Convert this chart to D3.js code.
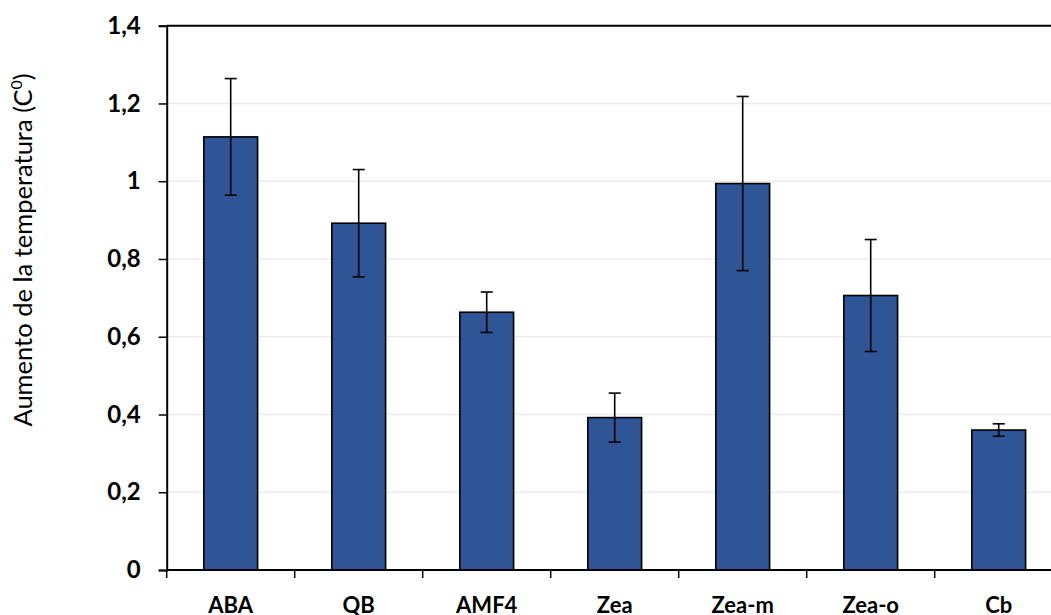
<!DOCTYPE html>
<html><head><meta charset="utf-8">
<script src="https://cdn.jsdelivr.net/npm/d3@7"></script>
<style>body{margin:0;background:#fff}svg{display:block}</style>
</head><body>
<svg id="c" width="1051" height="615"></svg>
<script>
const categories = ["ABA","QB","AMF4","Zea","Zea-m","Zea-o","Cb"];
const values = [1.114, 0.892, 0.663, 0.392, 0.994, 0.706, 0.360];
const errors = [0.150, 0.138, 0.052, 0.063, 0.224, 0.144, 0.016];
const yTicks = [0,0.2,0.4,0.6,0.8,1,1.2,1.4];
const yLabel = "Aumento de la temperatura (C";

const svg = d3.select("#c");
const mLeft = 166.7, mRight = mLeft + 7*128, mTop = 25.7, mBottom = 570;
const font = "Lato, 'Open Sans', sans-serif";

const x = d3.scaleBand().domain(categories).range([mLeft, mRight]).paddingInner(0.58).paddingOuter(0.29);
const y = d3.scaleLinear().domain([0,1.4]).range([mBottom, mTop]);

// gridlines
svg.append("g").selectAll("line").data(yTicks.filter(d=>d>0 && d<1.4)).join("line")
  .attr("x1", mLeft).attr("x2", mRight).attr("y1", d=>y(d)).attr("y2", d=>y(d))
  .attr("stroke", "#ebebeb").attr("stroke-width", 1.5);

// top border
svg.append("line").attr("x1", mLeft).attr("x2", mRight).attr("y1", y(1.4)).attr("y2", y(1.4))
  .attr("stroke","#000").attr("stroke-width",2);

// bars
svg.append("g").selectAll("rect").data(categories).join("rect")
  .attr("x", d=>x(d)).attr("width", x.bandwidth())
  .attr("y", (d,i)=>y(values[i])).attr("height", (d,i)=>y(0)-y(values[i]))
  .attr("fill","#2f5597").attr("stroke","#000").attr("stroke-width",1.6);

// error bars
const eg = svg.append("g").attr("stroke","#000").attr("stroke-width",1.6);
categories.forEach((c,i)=>{
  const cx = x(c) + x.bandwidth()/2;
  const hi = y(values[i]+errors[i]), lo = y(values[i]-errors[i]);
  eg.append("line").attr("x1",cx).attr("x2",cx).attr("y1",hi).attr("y2",lo);
  eg.append("line").attr("x1",cx-6).attr("x2",cx+6).attr("y1",hi).attr("y2",hi);
  eg.append("line").attr("x1",cx-6).attr("x2",cx+6).attr("y1",lo).attr("y2",lo);
});

// y axis
const ya = svg.append("g").attr("transform",`translate(${mLeft},0)`)
  .call(d3.axisLeft(y).tickValues(yTicks).tickSize(8).tickPadding(18)
    .tickFormat(d=>String(+d.toFixed(1)).replace(".",",")));
ya.select(".domain").attr("stroke","#000").attr("stroke-width",2);
ya.selectAll(".tick line").attr("stroke","#000").attr("stroke-width",1.5);
ya.selectAll("text").attr("font-family",font).attr("font-weight","bold").attr("font-size",24).attr("fill","#000");

// x axis
const xa = svg.append("g").attr("transform",`translate(0,${mBottom})`)
  .call(d3.axisBottom(x).tickSize(0).tickPadding(27.5));
xa.select(".domain").attr("stroke","#000").attr("stroke-width",2).attr("d",`M${mLeft},0H${mRight}`);
xa.selectAll("text").attr("font-family",font).attr("font-weight","bold").attr("font-size",22).attr("fill","#000");
// category separator ticks
svg.append("g").selectAll("line").data(d3.range(categories.length+1)).join("line")
  .attr("x1", i=>mLeft+i*x.step()).attr("x2", i=>mLeft+i*x.step())
  .attr("y1", mBottom).attr("y2", mBottom+8).attr("stroke","#000").attr("stroke-width",1.5);

// y label
const yl = svg.append("text").attr("transform","translate(32,250) rotate(-90)")
  .attr("text-anchor","middle").attr("font-family",font).attr("font-size",25.5).attr("fill","#000");
yl.append("tspan").text(yLabel);
yl.append("tspan").attr("font-size",16).attr("dy",-10).text("0");
yl.append("tspan").attr("dy",10).text(")");
</script>
</body></html>
